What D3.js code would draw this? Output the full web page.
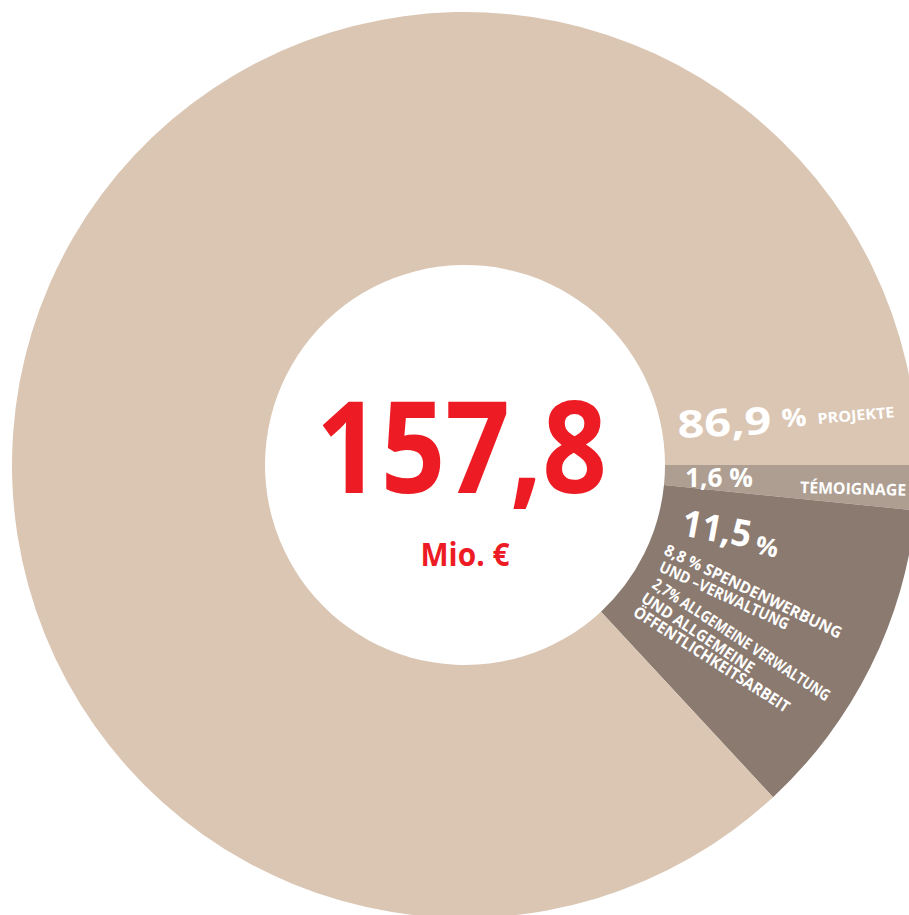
<!DOCTYPE html>
<html>
<head>
<meta charset="utf-8">
<script src="https://cdn.jsdelivr.net/npm/d3@7"></script>
<style>
  html, body { margin: 0; padding: 0; background: #ffffff; }
  svg { display: block; }
  text { font-family: "Open Sans", "Noto Sans", sans-serif; font-weight: 700; }
</style>
</head>
<body>
<svg id="chart" width="909" height="915"></svg>
<script>
// ---- data ----
const categories = ["Témoignage", "Spendenwerbung & Verwaltung", "Projekte"];
const values = [1.6, 11.5, 86.9];
const colors = ["#ae9e92", "#8b7a70", "#dac6b3"];
const totalValue = "157,8";
const totalUnit = "Mio. €";
const pctLabels = ["1,6 %", "11,5", "86,9"];
const nameLabels = ["TÉMOIGNAGE", "", "PROJEKTE"];
const subLines = [
  "8,8 % SPENDENWERBUNG",
  "UND –VERWALTUNG",
  "2,7% ALLGEMEINE VERWALTUNG",
  "UND ALLGEMEINE",
  "ÖFFENTLICHKEITSARBEIT"
];

// ---- layout ----
const svg = d3.select("#chart");
const cx = 465, cy = 465, R = 453, r = 200;
const g = svg.append("g").attr("transform", `translate(${cx},${cy})`);

const pie = d3.pie().sort(null).value(d => d)
  .startAngle(Math.PI / 2).endAngle(Math.PI / 2 + 2 * Math.PI);
const arc = d3.arc().innerRadius(r).outerRadius(R);

g.selectAll("path.slice").data(pie(values)).join("path")
  .attr("class", "slice")
  .attr("d", arc)
  .attr("fill", (d, i) => colors[i]);

// centre total
g.append("text").attr("x", -3.5).attr("y", 28)
  .attr("text-anchor", "middle").attr("fill", "#ed1c24")
  .attr("font-size", 127).attr("font-weight", 800)
  .attr("textLength", 291).attr("lengthAdjust", "spacingAndGlyphs")
  .text(totalValue);
g.append("text").attr("x", 0).attr("y", 101)
  .attr("text-anchor", "middle").attr("fill", "#ed1c24")
  .attr("font-size", 32).attr("textLength", 89).attr("lengthAdjust", "spacingAndGlyphs")
  .text(totalUnit);

function put(x, y, rot, size, len, txt, weight) {
  const t = svg.append("text")
    .attr("transform", `translate(${x},${y}) rotate(${rot})`)
    .attr("fill", "#ffffff").attr("font-size", size)
    .attr("font-weight", weight || 700)
    .text(txt);
  if (len) t.attr("textLength", len).attr("lengthAdjust", "spacingAndGlyphs");
  return t;
}

// Projekte
put(678, 438, -2.5, 38, 94, pctLabels[2], 800);
put(782, 427, -3, 25, 25, "%", 800);
put(818, 424, -5, 15, 77, nameLabels[2]);

// Témoignage
put(685, 487, 0, 26, 68, pctLabels[0]);
put(800, 493, 1.5, 16, 106, nameLabels[0]);

// 11,5 %
put(680, 535, 10.5, 37, 70, pctLabels[1], 800);
put(754, 553, 12, 25, 23, "%", 800);

// sub lines
const subPos = [
  [663, 554, 25.8, 16, 195],
  [658, 571, 24.8, 16, 141],
  [651, 587, 33.3, 16, 209],
  [640, 601, 33.6, 16, 132],
  [632, 615, 32.6, 16, 182]
];
subLines.forEach((s, i) => {
  const p = subPos[i];
  put(p[0], p[1], p[2], p[3], p[4], s);
});
</script>
</body>
</html>
